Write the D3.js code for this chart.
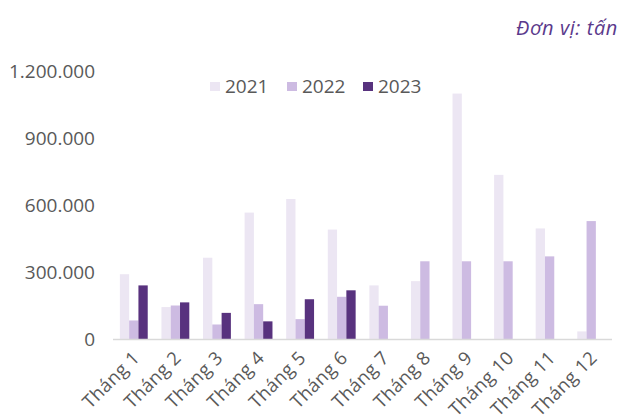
<!DOCTYPE html>
<html><head><meta charset="utf-8">
<script src="https://cdn.jsdelivr.net/npm/d3@7"></script>
<style>body{margin:0;background:#fff}svg{display:block}</style>
</head><body>
<svg id="c" width="622" height="418"></svg>
<script>
const categories = ["Tháng 1","Tháng 2","Tháng 3","Tháng 4","Tháng 5","Tháng 6","Tháng 7","Tháng 8","Tháng 9","Tháng 10","Tháng 11","Tháng 12"];
const seriesNames = ["2021","2022","2023"];
const values2021 = [290000,143000,364000,566000,627000,490000,240000,259000,1099000,735000,495000,34000];
const values2022 = [83000,150000,65000,156000,89000,189000,149000,348000,348000,348000,370000,528000];
const values2023 = [240000,164000,117000,79000,178000,218000,null,null,null,null,null,null];
const yTicks = [0,300000,600000,900000,1200000];
const colors = ["#ece6f3","#cdbbe2","#58327e"];
const allSeries = [values2021, values2022, values2023];

const svg = d3.select("#c");
const font = "'Open Sans', sans-serif";
const x0 = d3.scaleBand().domain(categories).range([113,612]).paddingInner(0.33).paddingOuter(0.165);
const x1 = d3.scaleBand().domain(seriesNames).range([0,x0.bandwidth()]);
const y = d3.scaleLinear().domain([0,1200000]).range([339,71]);

const fmt = v => d3.format(",")(v).replace(/,/g,".");
svg.append("g").selectAll("text").data(yTicks).join("text")
  .attr("x",95).attr("y",d=>y(d)).attr("dy","0.36em").attr("text-anchor","end")
  .attr("font-family",font).attr("font-size",19).attr("fill","#595959").text(fmt);

const g = svg.append("g");
categories.forEach((c,i)=>{
  allSeries.forEach((s,j)=>{
    const v = s[i];
    if(v==null) return;
    g.append("rect").attr("x",x0(c)+x1(seriesNames[j])).attr("width",x1.bandwidth())
      .attr("y",y(v)).attr("height",y(0)-y(v)).attr("fill",colors[j]);
  });
});

svg.append("line").attr("x1",113).attr("x2",612).attr("y1",y(0)+0.5).attr("y2",y(0)+0.5)
  .attr("stroke","#d9d9d9").attr("stroke-width",1.5);

svg.append("g").selectAll("text").data(categories).join("text")
  .attr("transform",d=>`translate(${x0(d)+x0.bandwidth()/2+7},${359}) rotate(-45)`)
  .attr("text-anchor","end").attr("font-family",font).attr("font-size",18.5).attr("letter-spacing",0.4)
  .attr("fill","#595959").text(d=>d);

const leg = svg.append("g");
const legX = [210,287,363];
seriesNames.forEach((n,j)=>{
  leg.append("rect").attr("x",legX[j]).attr("y",82).attr("width",10).attr("height",9).attr("fill",colors[j]);
  leg.append("text").attr("x",legX[j]+15).attr("y",86.5).attr("dy","0.36em").attr("font-family",font)
    .attr("font-size",19).attr("fill","#595959").text(n);
});

svg.append("text").attr("x",618).attr("y",28).attr("dy","0.36em").attr("text-anchor","end")
  .attr("font-family",font).attr("font-style","italic").attr("font-size",20).attr("letter-spacing",0.6)
  .attr("fill","#5b3a8c").text("Đơn vị: tấn");
</script>
</body></html>
